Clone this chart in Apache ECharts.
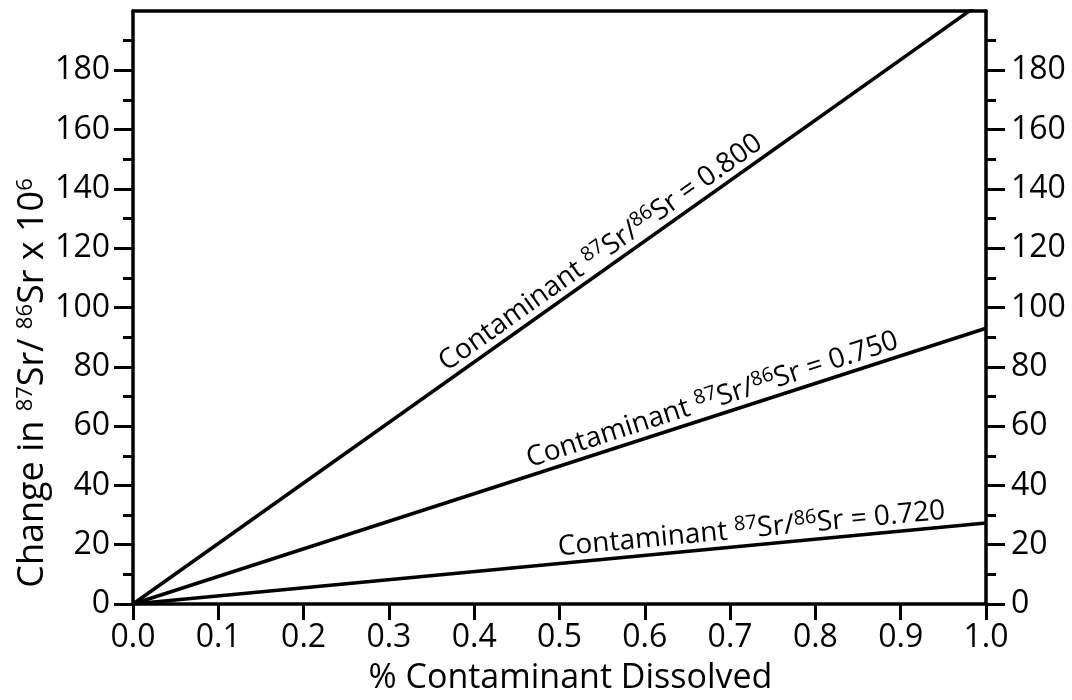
<!DOCTYPE html>
<html><head><meta charset="utf-8">
<script src="https://cdn.jsdelivr.net/npm/echarts@6/dist/echarts.min.js"></script>
<style>html,body{margin:0;padding:0;background:#fff}#c{width:1072px;height:700px}</style>
</head><body><div id="c"></div>
<script>
// ---- data ----
const xValues = [0.0, 1.0];
const s800 = [0, 204];
const s750 = [0, 93];
const s720 = [0, 27.3];
const curveNames = ['0.800', '0.750', '0.720'];
const xTicks = [0.0, 0.1, 0.2, 0.3, 0.4, 0.5, 0.6, 0.7, 0.8, 0.9, 1.0];
const yTicks = [0, 20, 40, 60, 80, 100, 120, 140, 160, 180];
const labelAtX = [0.559, 0.685, 0.727];

const FONT = 'Open Sans';
const chart = echarts.init(document.getElementById('c'));
const curves = [s800, s750, s720];

function yAxisCfg(pos, margin) {
  return {
    type: 'value', position: pos, min: 0, max: 200, interval: 20,
    axisLine: { show: true, onZero: false, lineStyle: { color: '#000', width: 3.5 } },
    axisTick: { show: true, inside: false, length: 19, lineStyle: { color: '#000', width: 3 }, customValues: yTicks },
    minorTick: { show: true, splitNumber: 2, length: 10, lineStyle: { color: '#000', width: 3 } },
    axisLabel: { show: true, margin: margin, color: '#000', fontSize: 32, fontFamily: FONT, customValues: yTicks },
    splitLine: { show: false }, minorSplitLine: { show: false }
  };
}

const option = {
  animation: false,
  backgroundColor: '#fff',
  grid: { left: 133, right: 86, top: 11, bottom: 91, containLabel: false },
  xAxis: [{
    type: 'value', position: 'bottom', min: 0, max: 1, interval: 0.1,
    name: '% Contaminant Dissolved', nameLocation: 'middle', nameGap: 57,
    nameTextStyle: { color: '#000', fontSize: 34, fontFamily: FONT, padding: [0, 0, 0, 22] },
    axisLine: { show: true, onZero: false, lineStyle: { color: '#000', width: 3.5 } },
    axisTick: { show: true, inside: false, length: 16, lineStyle: { color: '#000', width: 3 }, customValues: xTicks },
    axisLabel: { show: true, margin: 18, color: '#000', fontSize: 32, fontFamily: FONT,
      customValues: xTicks, formatter: v => v.toFixed(1) },
    splitLine: { show: false }
  }, {
    type: 'value', position: 'top', min: 0, max: 1,
    axisLine: { show: true, onZero: false, lineStyle: { color: '#000', width: 3.5 } },
    axisTick: { show: false }, axisLabel: { show: false }, splitLine: { show: false }
  }],
  yAxis: [yAxisCfg('left', 23), yAxisCfg('right', 25)],
  series: curves.map((d, i) => ({
    name: curveNames[i], type: 'line', xAxisIndex: 0, yAxisIndex: 0,
    data: xValues.map((x, j) => [x, d[j]]),
    showSymbol: false, symbol: 'none', clip: true,
    lineStyle: { color: '#000', width: 3.5 }
  }))
};
chart.setOption(option);

// curve labels, rotated along each line
const rich = { s: { fontSize: 20, fontFamily: FONT, fill: '#000', verticalAlign: 'top', lineHeight: 32 } };
const graphics = curves.map((d, i) => {
  const p0 = chart.convertToPixel({ xAxisIndex: 0, yAxisIndex: 0 }, [xValues[0], d[0]]);
  const p1 = chart.convertToPixel({ xAxisIndex: 0, yAxisIndex: 0 }, [xValues[1], d[1]]);
  const t = (labelAtX[i] - xValues[0]) / (xValues[1] - xValues[0]);
  const px = p0[0] + (p1[0] - p0[0]) * t, py = p0[1] + (p1[1] - p0[1]) * t;
  const ang = Math.atan2(p0[1] - p1[1], p1[0] - p0[0]);
  return {
    type: 'text', x: px, y: py, rotation: ang, z: 10,
    style: {
      text: 'Contaminant {s|87}Sr/{s|86}Sr = ' + curveNames[i], rich: rich,
      fontSize: 28, fontFamily: FONT, fill: '#000', lineHeight: 32,
      align: 'center', verticalAlign: 'bottom'
    }
  };
});
graphics.push({
  type: 'text', x: 33, y: 383, rotation: Math.PI / 2, z: 10,
  style: {
    text: 'Change in {t|87}Sr/ {t|86}Sr x 10{t|6}',
    rich: { t: { fontSize: 22, fontFamily: FONT, fill: '#000', verticalAlign: 'top', lineHeight: 37 } },
    fontSize: 36, fontFamily: FONT, fill: '#000', lineHeight: 37,
    align: 'center', verticalAlign: 'middle'
  }
});
chart.setOption({ graphic: graphics });
</script>
</body></html>
